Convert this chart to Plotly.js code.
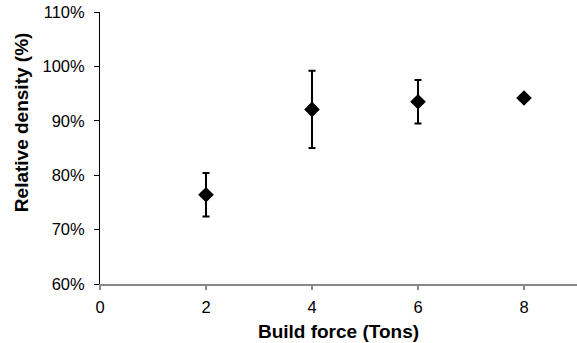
<!DOCTYPE html>
<html><head><meta charset="utf-8">
<script src="https://cdn.plot.ly/plotly-3.0.1.min.js"></script>
<style>html,body{margin:0;padding:0;background:#fff}#chart{width:577px;height:343px}</style>
</head><body><div id="chart"></div>
<script>
var buildForce = [2, 4, 6, 8];
var density = [0.764, 0.921, 0.935, 0.942];
var densityErr = [0.040, 0.071, 0.040, 0];
var xTicks = [0, 2, 4, 6, 8];
var yTicks = [0.6, 0.7, 0.8, 0.9, 1.0, 1.1];
var xTitle = 'Build force (Tons)';
var yTitle = 'Relative density (%)';

var trace = {
  x: buildForce, y: density, type: 'scatter', mode: 'markers',
  marker: {symbol: 'diamond', size: 12, color: '#000'},
  error_y: {type: 'data', array: densityErr, visible: true, color: '#000', thickness: 2, width: 3.5},
  showlegend: false
};
var layout = {
  width: 577, height: 343,
  margin: {l: 100, r: 0, t: 12, b: 59},
  paper_bgcolor: '#fff', plot_bgcolor: '#fff',
  font: {family: 'Liberation Sans, Arial, sans-serif', size: 16, color: '#000'},
  xaxis: {
    range: [0, 9], tickvals: xTicks, ticktext: xTicks.map(String),
    showgrid: false, zeroline: false, showline: true, linecolor: '#888', linewidth: 1.5,
    ticks: 'outside', ticklen: 4, tickcolor: '#888', tickwidth: 1.5,
    ticklabelstandoff: 4,
    tickfont: {size: 16.5},
    title: {text: '<b>' + xTitle + '</b>', font: {size: 19}, standoff: 9}
  },
  yaxis: {
    range: [0.6, 1.1], tickvals: yTicks, tickformat: '.0%',
    showgrid: false, zeroline: false, showline: true, linecolor: '#000', linewidth: 1,
    ticks: 'outside', ticklen: 5, tickcolor: '#000', tickwidth: 1,
    ticklabelstandoff: 6,
    tickfont: {size: 16.5}
  },
  annotations: [{
    text: '<b>' + yTitle + '</b>', textangle: -90, showarrow: false,
    xref: 'paper', yref: 'paper', x: -0.163, y: 0.596,
    xanchor: 'center', yanchor: 'middle', font: {size: 19}
  }]
};
Plotly.newPlot('chart', [trace], layout, {displayModeBar: false, staticPlot: true});
</script>
</body></html>
